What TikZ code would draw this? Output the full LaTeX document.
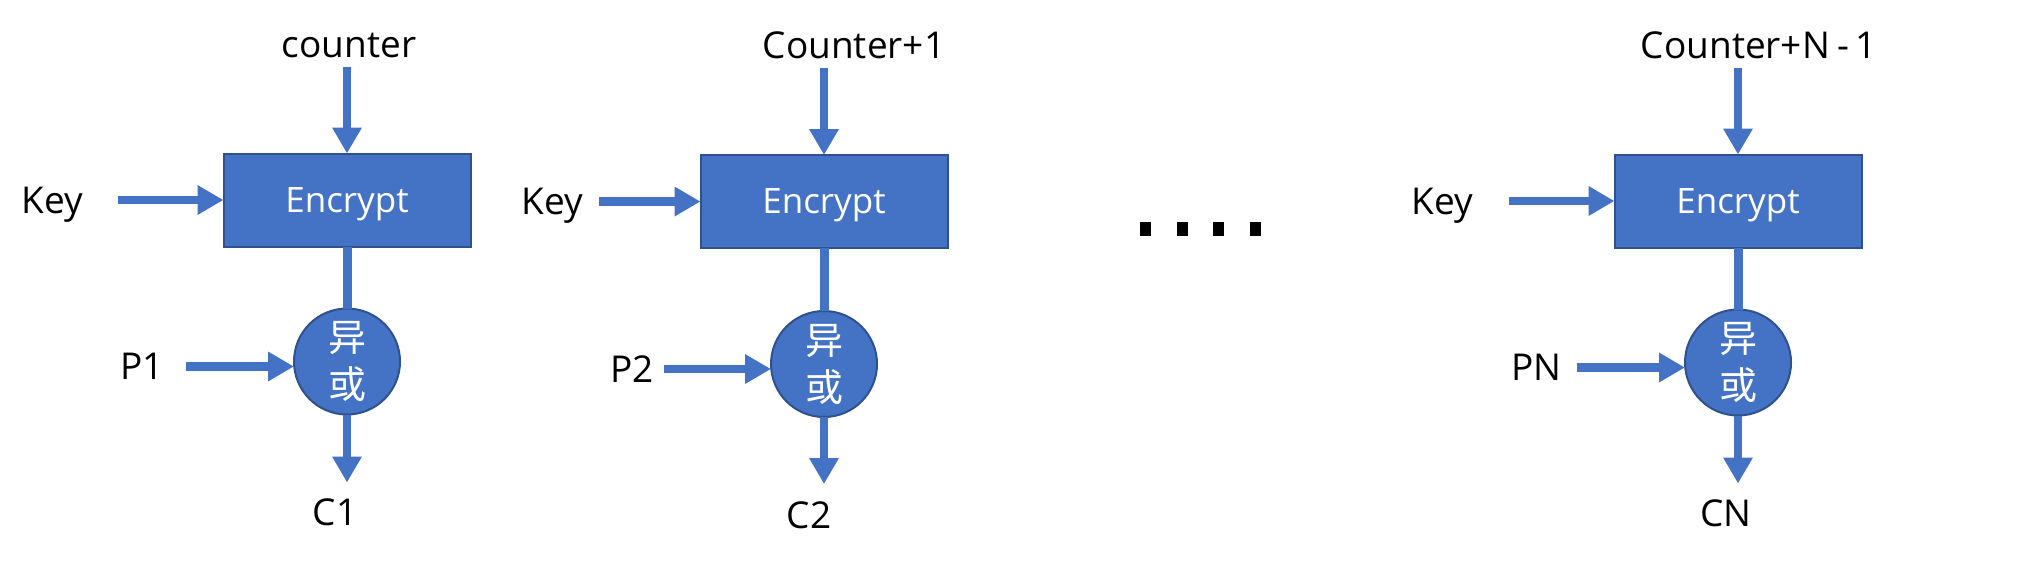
\documentclass[tikz,border=0pt]{standalone}
\usepackage{fontspec}
\setmainfont{Open Sans}
\newfontfamily\cjkfont{Noto Sans CJK SC}
\usepackage{tikz}
\usetikzlibrary{arrows.meta,positioning}
\definecolor{encblue}{RGB}{68,114,196}
\definecolor{encedge}{RGB}{47,82,143}

\begin{document}
\begin{tikzpicture}[
  x=1pt, y=-1pt,
  enc/.style={draw=encedge,fill=encblue,line width=2pt,minimum width=247pt,minimum height=93pt,inner sep=0pt,outer sep=0pt,text=white,text depth=0pt,font=\fontsize{35pt}{42pt}\selectfont},
  xor/.style={circle,draw=encedge,fill=encblue,line width=2pt,minimum size=106pt,inner sep=0pt,outer sep=0pt,text=white,align=center,font=\cjkfont\fontsize{38pt}{47pt}\selectfont},
  lbl/.style={inner sep=0pt,text height=26pt,text depth=0pt,font=\fontsize{37pt}{44pt}\selectfont},
  arr/.style={-{Triangle[length=26pt,width=28pt]},line width=8.5pt,color=encblue},
  link/.style={line width=9pt,color=encblue},
  dot/.style={fill=black,minimum width=11pt,minimum height=14pt,inner sep=0pt}
]
\useasboundingbox (0,0) rectangle (2041,560);

% first block
\node[enc] (enc1) at (347,200) {Encrypt};
\coordinate[above=87pt of enc1] (in1);
\node[lbl, above=9pt of in1, xshift=2pt] (cnt1) {counter};
\node[lbl, left=140pt of enc1] (key1) {Key};
\node[xor, below=62pt of enc1] (xor1) {异\\或};
\node[lbl, left=130pt of xor1, yshift=-5pt] (p1) {P1};
\coordinate[below=68pt of xor1] (out1);
\node[lbl, below=17pt of out1, xshift=-12pt] (c1) {C1};

\draw[arr] (in1) -- (enc1);
\draw[arr, shorten <=34pt] (key1) -- (enc1);
\draw[link] (enc1) -- (xor1);
\draw[arr, shorten <=22pt] (p1) -- (p1 -| xor1.west);
\draw[arr] (xor1) -- (out1);

% second block
\node[enc] (enc2) at (824,201.5) {Encrypt};
\coordinate[above=87pt of enc2] (in2);
\node[lbl, above=9pt of in2, xshift=30pt] (cnt2) {Counter+1};
\node[lbl, left=117pt of enc2] (key2) {Key};
\node[xor, below=63pt of enc2] (xor2) {异\\或};
\node[lbl, left=117pt of xor2, yshift=-5pt] (p2) {P2};
\coordinate[below=67pt of xor2] (out2);
\node[lbl, below=18pt of out2, xshift=-15pt] (c2) {C2};

\draw[arr] (in2) -- (enc2);
\draw[arr, shorten <=15pt] (key2) -- (enc2);
\draw[link] (enc2) -- (xor2);
\draw[arr, shorten <=10pt] (p2) -- (p2 -| xor2.west);
\draw[arr] (xor2) -- (out2);

% dots
\foreach \i/\dx in {1/1145,2/1182,3/1218,4/1255}
  \node[dot] (dot\i) at (\dx,229) {};

% last block
\node[enc] (enc3) at (1738,201) {Encrypt};
\coordinate[above=87pt of enc3] (in3);
\node[lbl, above=9pt of in3, xshift=21pt] (cnt3) {Counter+N\kern7pt-\kern7pt1};
\node[lbl, left=141pt of enc3] (key3) {Key};
\node[xor, below=62pt of enc3] (xor3) {异\\或};
\node[lbl, left=123pt of xor3, yshift=-5pt] (pN) {PN};
\coordinate[below=68pt of xor3] (out3);
\node[lbl, below=17pt of out3, xshift=-12pt] (cN) {CN};

\draw[arr] (in3) -- (enc3);
\draw[arr, shorten <=35pt] (key3) -- (enc3);
\draw[link] (enc3) -- (xor3);
\draw[arr, shorten <=15pt] (pN) -- (pN -| xor3.west);
\draw[arr] (xor3) -- (out3);
\end{tikzpicture}
\end{document}
